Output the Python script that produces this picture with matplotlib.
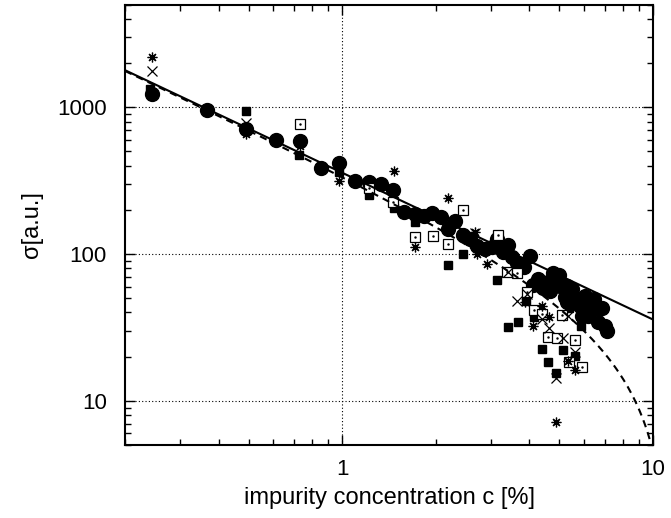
# -*- coding: utf-8 -*-
"""
===============================================================================
sigma vs impurity concentration, log-log
===============================================================================
"""
# =============================================================================
# GLOBAL VAR - GLOBAL MODS
# -----------------------------------------------------------------------------
import numpy as np
import matplotlib.pyplot as plt
from matplotlib.ticker import LogLocator, NullFormatter, FixedLocator, FixedFormatter

plt.rcParams['font.family'] = ['Liberation Sans', 'DejaVu Sans']

# filled circles
c_circ = [0.244, 0.366, 0.489, 0.611, 0.732, 0.853, 0.977, 1.097, 1.22, 1.337,
          1.461, 1.584, 1.712, 1.826, 1.938, 2.076, 2.19, 2.312, 2.444, 2.57,
          2.705, 2.887, 3.024, 3.157, 3.30, 3.42, 3.515, 3.66, 3.84, 4.02,
          4.12, 4.27, 4.43, 4.60, 4.66, 4.75, 4.98, 5.02, 5.21, 5.27, 5.30,
          5.48, 5.68, 5.82, 6.04, 6.27, 6.46, 6.60, 6.84, 5.89, 6.19, 6.67,
          7.00, 7.10]
s_circ = [1232, 959, 711, 601, 589, 384, 417, 315, 311, 300,
          273, 192, 187, 182, 190, 180, 148, 169, 134, 126.5,
          114, 108, 111, 126.5, 103, 115, 95, 86.8, 81.2, 97.4,
          62, 67.5, 58.6, 64.1, 56, 74.2, 71.9, 60.8, 50.7, 47, 60.5,
          57.7, 49.3, 44.4, 52, 44.4, 49.3, 42.8, 42.8, 38, 38, 34.2,
          32.3, 29.9]

# filled squares
c_fsq = [0.241, 0.489, 0.726, 0.977, 1.22, 1.465, 1.712, 2.19, 2.44, 3.14,
         3.42, 3.68, 3.90, 4.14, 4.38, 4.60, 4.87, 5.12, 5.36, 5.61, 5.85]
s_fsq = [1334, 939, 473, 360, 252, 205, 164.5, 84.1, 100, 66.5,
         31.6, 34.2, 48.1, 37, 22.5, 18.4, 15.4, 22.2, 42.6, 20.3, 32.1]

# open squares
c_osq = [0.73, 1.22, 1.46, 1.712, 1.952, 2.19, 2.44, 3.18, 3.38, 3.66,
         3.92, 4.14, 4.38, 5.08, 4.60, 4.90, 5.61, 5.36, 5.89]
s_osq = [766, 280, 227, 131, 133, 117, 200, 135, 75, 73.9,
         54.8, 41.5, 39, 38.4, 27.1, 26.6, 25.9, 18.4, 17.1]

# crosses
c_crs = [0.244, 0.489, 2.67, 3.42, 3.64, 3.92, 4.38, 4.62, 4.87, 5.14,
         5.34, 5.61]
s_crs = [1777, 782, 139, 75, 48, 53.4, 36, 31.2, 14.2, 26.8,
         38, 21.6]

# asterisks
c_ast = [0.244, 0.489, 0.73, 0.977, 1.465, 1.712, 1.94, 2.19, 2.67, 2.705,
         2.93, 3.88, 4.12, 4.38, 4.62, 4.87, 5.34, 5.61]
s_ast = [2192, 658, 547, 316, 370, 111, 197, 240, 141, 100,
         85.5, 47, 32.4, 44, 37, 7.12, 18.7, 16.3]

# fit parameters
A_fit = 358.0
c0_fit = 11.3
p_fit = 1.1

# -----------------------------------------------------------------------------
# END GLOBAL VAR - GLOBAL MODS
# =============================================================================


# =============================================================================
# FUNCTIONS
# -----------------------------------------------------------------------------
def power_law(c):
    return A_fit / c

def cutoff_law(c):
    return A_fit / c * (1.0 - (c / c0_fit)**p_fit)

# -----------------------------------------------------------------------------
# END FUNCTIONS
# =============================================================================


# =============================================================================
# MAIN SCRIPT
# -----------------------------------------------------------------------------
fig = plt.figure(figsize=(6.71, 5.18), dpi=100)
ax = fig.add_axes([0.1863, 0.1409, 0.7869, 0.850])

ax.set_xscale('log')
ax.set_yscale('log')
ax.set_xlim(0.2, 10)
ax.set_ylim(5, 5000)

ax.plot(c_circ, s_circ, 'o', color='black', ms=10, zorder=3)
ax.plot(c_fsq, s_fsq, 's', color='black', ms=5.5, zorder=4)
ax.plot(c_osq, s_osq, 's', mec='black', mfc='white', mew=0.9, ms=6.5, zorder=4)
ax.plot(c_osq, s_osq, '.', color='black', ms=1.5, zorder=5)
ax.plot(c_crs, s_crs, 'x', color='black', ms=6.5, mew=0.9, zorder=5)
ax.plot(c_ast, s_ast, marker=(8, 2, 0), ls='none', color='black', ms=7,
        mew=0.9, zorder=5)

xx = np.logspace(np.log10(0.2), 1.0, 400)
ax.plot(xx, power_law(xx), '-', color='black', lw=1.5, zorder=6)
yc = cutoff_law(xx)
ax.plot(xx[yc > 0], yc[yc > 0], '--', color='black', lw=1.5,
        dashes=(3.5, 2.5), zorder=6)

ax.xaxis.set_major_locator(FixedLocator([1, 10]))
ax.xaxis.set_major_formatter(FixedFormatter(['1', '10']))
ax.xaxis.set_minor_locator(LogLocator(base=10, subs=np.arange(2, 10)))
ax.xaxis.set_minor_formatter(NullFormatter())
ax.yaxis.set_major_locator(FixedLocator([10, 100, 1000]))
ax.yaxis.set_major_formatter(FixedFormatter(['10', '100', '1000']))
ax.yaxis.set_minor_locator(LogLocator(base=10, subs=np.arange(2, 10)))
ax.yaxis.set_minor_formatter(NullFormatter())

ax.tick_params(which='both', direction='in', top=True, right=True,
               labelsize=16, width=1)
ax.tick_params(which='major', length=7)
ax.tick_params(which='minor', length=4)
ax.tick_params(axis='x', which='major', pad=10)
ax.tick_params(axis='y', which='major', pad=13)
for s in ax.spines.values():
    s.set_linewidth(1.5)

ax.grid(True, which='major', ls=(0, (1, 2)), color='black', lw=0.8)

ax.set_xlabel('impurity concentration c [%]', fontsize=17, labelpad=5)
ax.set_ylabel('σ[a.u.]', fontsize=17, labelpad=10)

plt.savefig('out.png', dpi=100)

# -----------------------------------------------------------------------------
# END MAIN SCRIPT
# =============================================================================
